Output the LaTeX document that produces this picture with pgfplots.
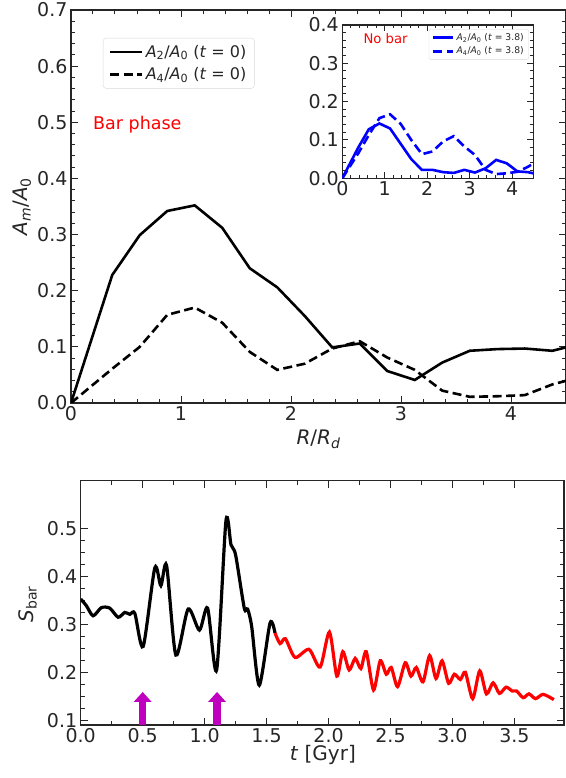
\documentclass[border=0pt]{standalone}
\usepackage{fontspec}
\setmainfont{DejaVu Sans}
\usepackage{pgfplots}
\pgfplotsset{compat=1.18}
\usetikzlibrary{arrows.meta}

\definecolor{txt}{RGB}{38,38,38}
\definecolor{mplmag}{RGB}{191,0,191}

\pgfplotsset{
  mpl/.style={
    scale only axis,
    axis line style={txt, line width=1.2pt},
    every tick/.style={txt, line width=1pt},
    major tick length=7pt,
    minor tick length=4pt,
    tick align=inside,
    ticklabel style={font=\fontsize{19}{21}\selectfont, text=txt},
    label style={font=\fontsize{20}{23}\selectfont, text=txt},
    /pgf/number format/assume math mode=true,
    legend cell align=left,
  },
  onedec/.style={/pgf/number format/.cd, fixed, fixed zerofill, precision=1},
}

\begin{document}
\begin{tikzpicture}
\useasboundingbox (0pt,0pt) rectangle (565pt,778pt);

% top panel: profiles at t = 0
\begin{axis}[mpl,
  at={(71pt,375pt)}, anchor=south west,
  width=495pt, height=393pt,
  xmin=0, xmax=4.5, ymin=0, ymax=0.7,
  xtick={0,1,2,3,4},
  ytick={0,0.1,0.2,0.3,0.4,0.5,0.6,0.7},
  minor x tick num=4, minor y tick num=4,
  yticklabel style={onedec},
  xlabel={\textit{R}/\textit{R}\textsubscript{\textit{d}}},
  ylabel={\textit{A}\textsubscript{\textit{m}}/\textit{A}\textsubscript{0}},
  xlabel style={at={(axis description cs:0.5,-0.092)}, anchor=center},
  ylabel style={at={(axis description cs:-0.099,0.5)}, anchor=center},
  legend style={at={(0.0646,0.929)}, anchor=north west,
    font=\fontsize{16}{18}\selectfont, text=txt,
    draw=black!15, rounded corners=3pt, inner xsep=6pt, inner ysep=5pt, row sep=5pt},
  legend image code/.code={\draw[#1] (0pt,0pt) -- (32pt,0pt);},
]
\addplot[black, line width=2.6pt] coordinates {
  (0,0) (0.375,0.228) (0.625,0.299) (0.875,0.342) (1.125,0.352)
  (1.375,0.312) (1.625,0.240) (1.875,0.206) (2.125,0.155) (2.375,0.099)
  (2.625,0.106) (2.875,0.057) (3.125,0.041) (3.375,0.072) (3.625,0.093)
  (3.875,0.096) (4.125,0.097) (4.375,0.093) (4.625,0.105)
};
\addlegendentry{\textit{A}\textsubscript{2}/\textit{A}\textsubscript{0} (\textit{t} = 0)}
\addplot[black, line width=2.6pt, dash pattern=on 9pt off 4.5pt] coordinates {
  (0,0) (0.375,0.061) (0.625,0.100) (0.875,0.157) (1.125,0.170)
  (1.375,0.143) (1.625,0.091) (1.875,0.059) (2.125,0.070) (2.375,0.097)
  (2.625,0.110) (2.875,0.081) (3.125,0.059) (3.375,0.022) (3.625,0.011)
  (3.875,0.012) (4.125,0.014) (4.375,0.033) (4.625,0.046)
};
\addlegendentry{\textit{A}\textsubscript{4}/\textit{A}\textsubscript{0} (\textit{t} = 0)}
\node[red, anchor=west, font=\fontsize{17.5}{20}\selectfont, inner sep=0pt] at (axis cs:0.2,0.495) {Bar phase};
\end{axis}

% inset: profiles at t = 3.8
\begin{axis}[mpl,
  at={(342.3pt,599.7pt)}, anchor=south west,
  width=191pt, height=153.3pt,
  axis background/.style={fill=white},
  xmin=0, xmax=4.5, ymin=0, ymax=0.4,
  xtick={0,1,2,3,4},
  ytick={0,0.1,0.2,0.3,0.4},
  minor x tick num=4, minor y tick num=4,
  major tick length=6pt, minor tick length=3.5pt,
  yticklabel style={onedec},
  legend style={at={(0.977,0.972)}, anchor=north east,
    font=\fontsize{9.2}{10.5}\selectfont, text=txt,
    draw=black!15, rounded corners=2pt, inner xsep=3pt, inner ysep=2pt, row sep=1pt},
  legend image code/.code={\draw[#1] (0pt,0pt) -- (20pt,0pt);},
]
\addplot[blue, line width=2.6pt] coordinates {
  (0,0) (0.375,0.080) (0.625,0.128) (0.875,0.143) (1.125,0.130)
  (1.375,0.090) (1.625,0.050) (1.875,0.022) (2.125,0.022) (2.375,0.016)
  (2.625,0.014) (2.875,0.022) (3.125,0.015) (3.375,0.026) (3.625,0.048)
  (3.875,0.039) (4.125,0.018) (4.375,0.016) (4.625,0.010)
};
\addlegendentry{\textit{A}\textsubscript{2}/\textit{A}\textsubscript{0} (\textit{t} = 3.8)}
\addplot[blue, line width=2.6pt, dash pattern=on 9pt off 4.5pt] coordinates {
  (0,0) (0.375,0.065) (0.625,0.113) (0.875,0.157) (1.125,0.167)
  (1.375,0.142) (1.625,0.100) (1.875,0.063) (2.125,0.070) (2.375,0.096)
  (2.625,0.110) (2.875,0.083) (3.125,0.061) (3.375,0.022) (3.625,0.011)
  (3.875,0.013) (4.125,0.017) (4.375,0.030) (4.625,0.048)
};
\addlegendentry{\textit{A}\textsubscript{4}/\textit{A}\textsubscript{0} (\textit{t} = 3.8)}
\node[red, anchor=west, font=\fontsize{13.2}{15}\selectfont, inner sep=0pt] at (axis cs:0.495,0.365) {No bar};
\end{axis}

% bottom panel: bar strength against time
\begin{axis}[mpl,
  at={(80.7pt,53pt)}, anchor=south west,
  width=483.3pt, height=244.3pt,
  xmin=0, xmax=3.9, ymin=0.09, ymax=0.6,
  xtick={0,0.5,1,1.5,2,2.5,3,3.5},
  ytick={0.1,0.2,0.3,0.4,0.5},
  minor x tick num=1, minor y tick num=3,
  xticklabel style={onedec}, yticklabel style={onedec},
  xlabel={\textit{t} [Gyr]},
  ylabel={\textit{S}\textsubscript{bar}},
  xlabel style={at={(axis description cs:0.501,-0.123)}, anchor=center},
  ylabel style={at={(axis description cs:-0.110,0.495)}, anchor=center},
]
\addplot[black, line width=3.2pt, smooth, tension=0.45] coordinates {
  (0.000,0.353) (0.046,0.339) (0.100,0.318) (0.167,0.335) (0.234,0.334)
  (0.302,0.315) (0.356,0.325) (0.396,0.321) (0.437,0.323) (0.504,0.254)
  (0.598,0.418) (0.647,0.381) (0.693,0.423) (0.768,0.236) (0.867,0.332)
  (0.958,0.288) (1.024,0.334) (1.097,0.205) (1.172,0.516) (1.213,0.466)
  (1.250,0.445) (1.320,0.334) (1.347,0.332) (1.380,0.295) (1.441,0.173)
  (1.528,0.303) (1.568,0.282)
};
\addplot[red, line width=3.2pt, smooth, tension=0.45] coordinates {
  (1.568,0.282) (1.609,0.260) (1.652,0.270) (1.730,0.231) (1.842,0.248)
  (1.932,0.211) (2.007,0.284) (2.067,0.192) (2.115,0.243) (2.166,0.205)
  (2.215,0.229) (2.261,0.208) (2.304,0.243) (2.363,0.163) (2.417,0.224)
  (2.466,0.196) (2.506,0.210) (2.557,0.170) (2.619,0.220) (2.665,0.192)
  (2.708,0.210) (2.762,0.180) (2.816,0.235) (2.867,0.187) (2.916,0.224)
  (2.969,0.177) (3.015,0.196) (3.064,0.185) (3.104,0.200) (3.163,0.145)
  (3.220,0.203) (3.274,0.155) (3.328,0.178) (3.379,0.156) (3.433,0.169)
  (3.482,0.161) (3.517,0.161) (3.571,0.147) (3.617,0.155) (3.670,0.145)
  (3.732,0.154) (3.818,0.143)
};
\draw[mplmag, line width=7.3pt, -{Triangle[width=17.3pt,length=10pt]}]
  (axis cs:0.5,0.09) -- (axis cs:0.5,0.159);
\draw[mplmag, line width=7.3pt, -{Triangle[width=17.3pt,length=10pt]}]
  (axis cs:1.1,0.09) -- (axis cs:1.1,0.159);
\end{axis}
\end{tikzpicture}
\end{document}
